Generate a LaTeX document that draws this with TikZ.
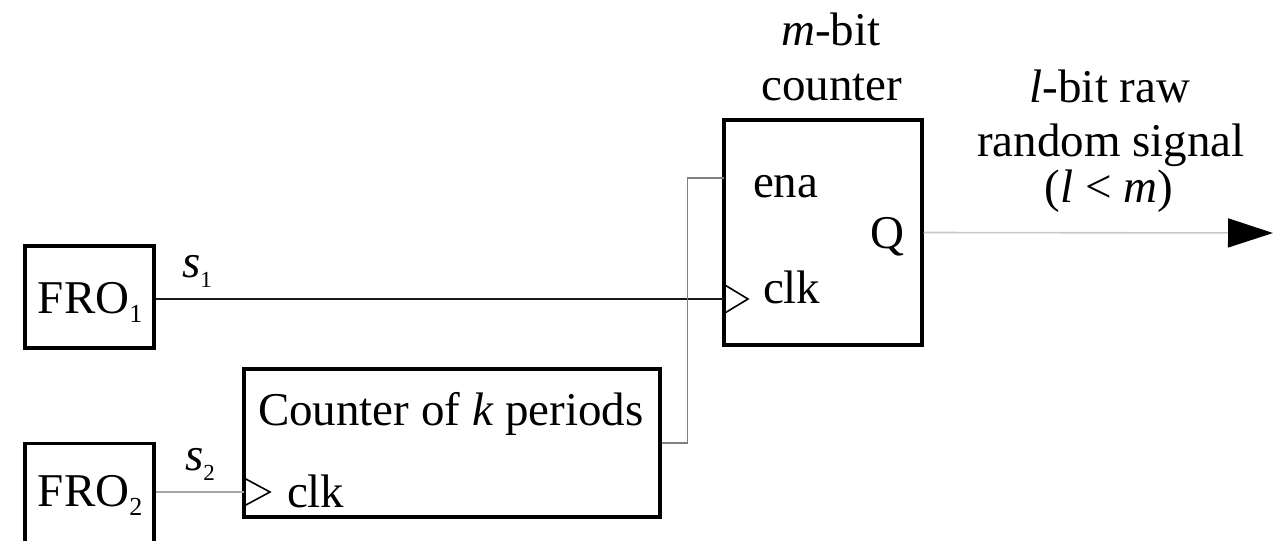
\documentclass[tikz,border=0pt]{standalone}
\usepackage{fontspec}
\setmainfont{Liberation Serif}
\usetikzlibrary{arrows.meta}
\newcommand{\frosub}[1]{\raisebox{-4.6pt}{\fontsize{13}{13}\selectfont #1}}
\newcommand{\sigsub}[1]{\raisebox{-5pt}{\fontsize{11.5}{11.5}\selectfont #1}}
\tikzset{
  blk/.style={draw=black, line width=1.7pt, inner sep=0pt},
  txt/.style={inner sep=0pt, outer sep=0pt, font=\fontsize{23.5}{27}\selectfont},
  sigdark/.style={draw=black!90, line width=1.1pt},
  siggray/.style={draw=black!35, line width=1.1pt},
  enaline/.style={draw=black!50, line width=0.7pt},
  qline/.style={draw=black!22, line width=0.8pt},
  clktri/.style={draw=black, line width=0.8pt, line join=miter},
}
\begin{document}
\begin{tikzpicture}[x=0.5pt,y=-0.5pt]
\useasboundingbox (0,0) rectangle (1286,541);
\clip (0,0) rectangle (1286,541);
% blocks
\node[blk, minimum width=64.5pt, minimum height=51pt] (fro1) at (89.5,297) {};
\node[blk, minimum width=64.5pt, minimum height=100pt, anchor=north] (fro2) at (89.5,442) {};
\node[blk, minimum width=208pt, minimum height=74pt] (cnt) at (452,443) {};
\node[blk, minimum width=99pt, minimum height=112.5pt] (mcnt) at (823,232.5) {};
% texts
\node[txt, anchor=base west] (fro1t) at (38,313) {FRO\frosub{1}};
\node[txt, anchor=base west] (fro2t) at (38,506) {FRO\frosub{2}};
\node[txt, anchor=base west] (s1) at (182,277) {\textit{s}\sigsub{1}};
\node[txt, anchor=base west] (s2) at (185,470) {\textit{s}\sigsub{2}};
\node[txt, anchor=base west] (cntt) at (258,425) {Counter of \textit{k} periods};
\node[txt, anchor=base west] (cclkt) at (287,507) {clk};
\node[txt, anchor=base west] (enat) at (753,197) {ena};
\node[txt, anchor=base west] (mclkt) at (763,303) {clk};
\node[txt, anchor=base west] (qt) at (870,248) {Q};
\node[txt, anchor=base] (mb1) at (831,45) {\textit{m}-bit};
\node[txt, anchor=base] (mb2) at (832,100) {counter};
\node[txt, anchor=base] (lb1) at (1110,102) {\textit{l}-bit raw};
\node[txt, anchor=base] (lb2) at (1111,156) {random signal};
\node[txt, anchor=base] (lb3) at (1109,202) {(\textit{l} < \textit{m})};
% ports
\coordinate (mclk) at (724,299);
\coordinate (cclk) at (244,492);
\coordinate (mena) at (724,178);
\coordinate (qend) at (1273,233);
% connectors
\draw[sigdark] (fro1.east |- mclk) -- (mclk);
\draw[siggray] (fro2.east |- cclk) -- (cclk);
\draw[enaline] (cnt.east) -- ++(26,0) |- (mena);
\draw[qline, -{Triangle[length=22.5pt,width=14.5pt,color=black]}] (mcnt.east) -- (qend);
% clock triangles
\draw[clktri] (mclk) ++(0,-14.5) -- ++(24,14.5) -- ++(-24,14.5);
\draw[clktri] (cclk) ++(0,-14) -- ++(26,14) -- ++(-26,14);
\end{tikzpicture}
\end{document}
